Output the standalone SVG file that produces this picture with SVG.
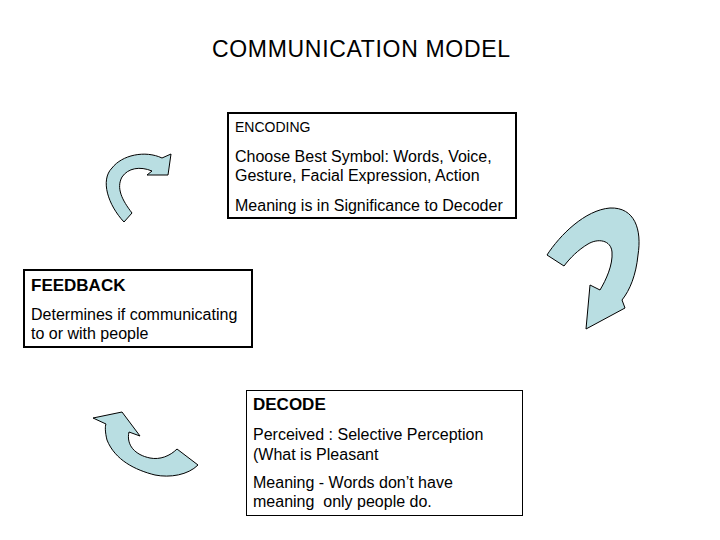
<svg xmlns="http://www.w3.org/2000/svg" width="720" height="540" viewBox="0 0 720 540">
<style>
text{font-family:"Liberation Sans",Arial,sans-serif;fill:#000}
.t{font-size:16px}
.h{font-size:14px}
.b{font-size:17px;font-weight:bold}
.box{fill:#fff;stroke:#000}
.arr{fill:#b9dee2;stroke:#000;stroke-width:1;stroke-linejoin:round}
</style>
<rect width="720" height="540" fill="#fff"/>
<text x="212" y="57" font-size="23" textLength="298" lengthAdjust="spacing">COMMUNICATION MODEL</text>
<g id="connectors">
<path class="arr" d="M124,222 C108,205 100,180 112,168 C122,155 145,150 162,158 L171,154 L168,175 L147,175 L152,171 C140,166 128,168 122,177 C116,188 122,200 132,213 Z"/>
<path class="arr" d="M547,255 C560,235 585,210 610,208 C635,207 642,230 638,255 C636,275 630,290 622,300 L625,308 L586,329 L590,285 L600,290 C606,280 613,265 612,252 C611,240 598,238 588,244 C578,250 570,258 564,266 Z"/>
<path class="arr" d="M93,418 L122,412 L140,436 L129,432 C126,445 135,455 150,458 C160,460 170,456 177,449 L198,465 C188,475 170,478 155,475 C135,470 115,460 107,440 C105,432 105,426 106,424 Z"/>
</g>
<g id="encoding">
<rect class="box" x="228" y="113" width="288" height="105" stroke-width="2"/>
<text class="h" x="235" y="132">ENCODING</text>
<text class="t" x="235" y="162">Choose Best Symbol: Words, Voice,</text>
<text class="t" x="235" y="181">Gesture, Facial Expression, Action</text>
<text class="t" x="235" y="211">Meaning is in Significance to Decoder</text>
</g>
<g id="feedback">
<rect class="box" x="24" y="270" width="228" height="77" stroke-width="2"/>
<text class="b" x="31" y="291">FEEDBACK</text>
<text class="t" x="31" y="320">Determines if communicating</text>
<text class="t" x="31" y="339">to or with people</text>
</g>
<g id="decode">
<rect class="box" x="246.5" y="390.5" width="276" height="125" stroke-width="1"/>
<text class="b" x="253" y="410">DECODE</text>
<text class="t" x="253" y="440">Perceived : Selective Perception</text>
<text class="t" x="253" y="460">(What is Pleasant</text>
<text class="t" x="253" y="488">Meaning - Words don’t have</text>
<text class="t" x="253" y="507" xml:space="preserve">meaning  only people do.</text>
</g>
</svg>
